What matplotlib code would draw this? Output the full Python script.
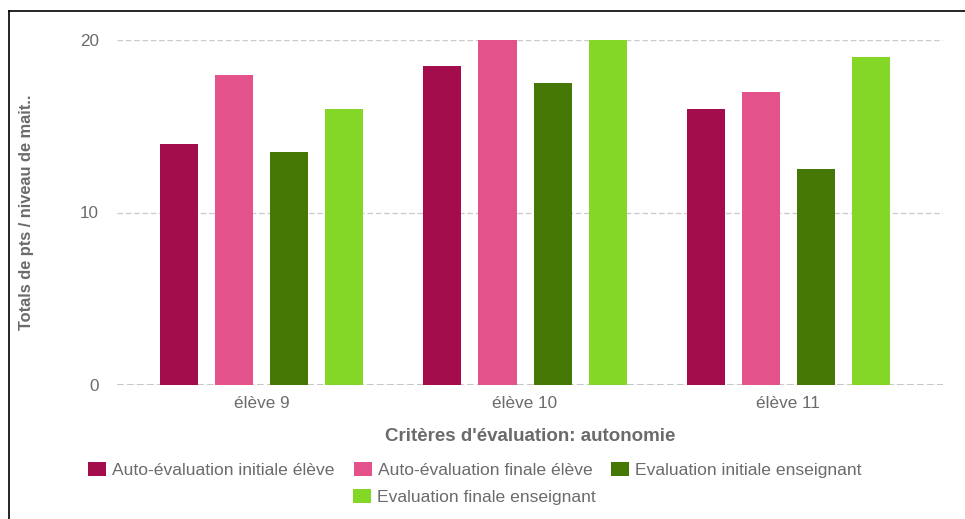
import matplotlib
matplotlib.use("Agg")
import matplotlib.pyplot as plt
import numpy as np
from matplotlib.lines import Line2D
from matplotlib.patches import Patch

categories = ["élève 9", "élève 10", "élève 11"]
series_names = ["Auto-évaluation initiale élève", "Auto-évaluation finale élève",
                "Evaluation initiale enseignant", "Evaluation finale enseignant"]
auto_init = [14, 18.5, 16]
auto_final = [18, 20, 17]
eval_init = [13.5, 17.5, 12.5]
eval_final = [16, 20, 19]
colors = ["#A30D4B", "#E4528B", "#467806", "#84D627"]
yticks = [0, 10, 20]

plt.rcParams['font.family'] = ['Liberation Sans', 'DejaVu Sans']
W, H = 965, 519
fig = plt.figure(figsize=(W/100, H/100), dpi=100)
ax = fig.add_axes([117/W, 1-385/H, (943-117)/W, (385-40)/H])

x = np.arange(len(categories))
step = 55/263
bw = 38/263
series = [auto_init, auto_final, eval_init, eval_final]
for i, (vals, c) in enumerate(zip(series, colors)):
    ax.bar(x + (i-1.5)*step, vals, width=bw, color=c, label=series_names[i],
           zorder=3, clip_on=False)

ax.set_xlim(-0.551, 2.589)
ax.set_ylim(0, 20)
ax.set_yticks(yticks)
ax.set_xticks(x)
ax.set_xticklabels(categories)
for s in ax.spines.values():
    s.set_visible(False)
ax.tick_params(axis='both', length=0, colors='#6b6b6b', labelsize=12.3)
ax.tick_params(axis='y', pad=13)
ax.tick_params(axis='x', pad=8)
ax.yaxis.grid(True, color='#cccccc', linestyle=(0, (4, 2)), linewidth=1, zorder=0)
ax.axhline(0, color='#bbbbbb', linestyle=(0, (4, 2)), linewidth=1.2, zorder=1)

ax.set_xlabel("Critères d'évaluation: autonomie", fontsize=13.5, fontweight='bold',
              color='#6b6b6b', labelpad=12)
fig.text(27/W, 1-212/H, "Totals de pts / niveau de mait..", rotation=90,
         ha='center', va='center', fontsize=11.8, fontweight='bold', color='#6b6b6b')

handles = [Patch(facecolor=c, edgecolor='none') for c in colors]
fs = 12.6
em = fs * 100 / 72
leg_kw = dict(frameon=False, prop={'size': fs}, handlelength=18/em, handleheight=14/em,
              handletextpad=6/em, borderpad=0, borderaxespad=0, labelcolor='#6b6b6b',
              columnspacing=19/em)
l1 = fig.legend(handles[:3], series_names[:3], loc='center left', ncol=3,
                bbox_to_anchor=(88/W, 1-470/H), **leg_kw)
l2 = fig.legend(handles[3:], series_names[3:], loc='center left', ncol=1,
                bbox_to_anchor=(353/W, 1-497/H), **leg_kw)

# outer frame
fig.add_artist(Line2D([9/W, 1], [1-11/H, 1-11/H], color='black', linewidth=1.2))
fig.add_artist(Line2D([9/W, 9/W], [0, 1-11/H], color='black', linewidth=1.2))

fig.savefig("out.png", dpi=100)
